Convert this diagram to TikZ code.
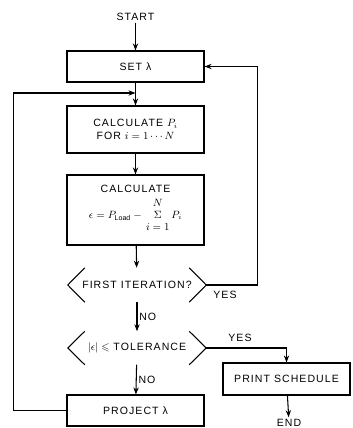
\documentclass[tikz,border=0pt]{standalone}
\usepackage{amsmath,amssymb}
\usepackage{fontspec}
\setmainfont{Liberation Sans}[LetterSpace=10]
\usetikzlibrary{arrows.meta,positioning,calc}
\tikzset{
  stepbox/.style ={draw,line width=0.9pt,minimum width=137*0.03cm,minimum height=31*0.03cm,
                   font=\fontsize{9}{10.5}\selectfont,align=center,inner sep=2pt},
  choice/.style  ={minimum width=138*0.03cm,minimum height=34*0.03cm,inner sep=0pt,
                   font=\fontsize{9}{10.5}\selectfont},
  ar/.style      ={line width=0.9pt,-{Stealth[length=6pt,width=4.5pt]}},
  ln/.style      ={line width=0.9pt},
  lbl/.style     ={font=\fontsize{9}{10.5}\selectfont,inner sep=1.5pt},
}

\begin{document}
\begin{tikzpicture}[x=0.03cm,y=-0.03cm]
  \useasboundingbox (0,0) rectangle (352,428);
  \node[lbl] (start) at (135.5,17){START};
  \node[stepbox] (set) at (135.5,66.5){SET λ};
  \node[stepbox,minimum height=47*0.03cm] (calcP) at (135.5,129.5){CALCULATE $P_i$\\FOR $i=1\cdots N$};
  \node[stepbox,minimum height=70*0.03cm] (calcE) at (135.5,210)
    {CALCULATE\\[3pt]$\epsilon = P_{\mathrm{Load}} -
      \begin{array}{@{\,}c@{\,}}N\\ \Sigma\\ i=1\end{array} P_i$};
  \node[choice] (first) at (137,285){FIRST ITERATION?};
  \node[choice,minimum height=33*0.03cm] (tol) at (137,348){$|\epsilon| \leqslant$ TOLERANCE};
  \node[stepbox,minimum width=127*0.03cm,minimum height=32*0.03cm] (print) at (286.5,379){PRINT SCHEDULE};
  \node[stepbox] (project) at (135.5,410.5){PROJECT λ};
  \node[lbl,anchor=south] (end) at (289,428.5){END};
  \coordinate (join) at (135.5,93);
  % chevron sides of the two tests
  \foreach \d in {first,tol}{
    \draw[ln] ($(\d.north west)+(17,0)$) -- (\d.west) -- ($(\d.south west)+(17,0)$);
    \draw[ln] ($(\d.north east)-(17,0)$) -- (\d.east) -- ($(\d.south east)-(17,0)$);
  }
  \draw[ar] (start) -- (set);
  \draw[ar] (set) -- (calcP);
  \draw[ar] (calcP) -- (calcE);
  \draw[ar] (calcE) -- (first);
  \draw[ar] (first.east) -- ++(51,0) |- (set.east);
  \node[lbl] at (225,295){YES};
  \draw[ar] (first) -- node[lbl,right]{NO} (tol);
  \draw[ar] (tol) -- node[lbl,right]{NO} (project);
  \draw[ar] (tol.east) -| (print.north);
  \node[lbl] at (240,338){YES};
  \draw[ar] (print) -- (end);
  \draw[ar] (project.west) -- ++(-53,0) |- (join);
\end{tikzpicture}
\end{document}
